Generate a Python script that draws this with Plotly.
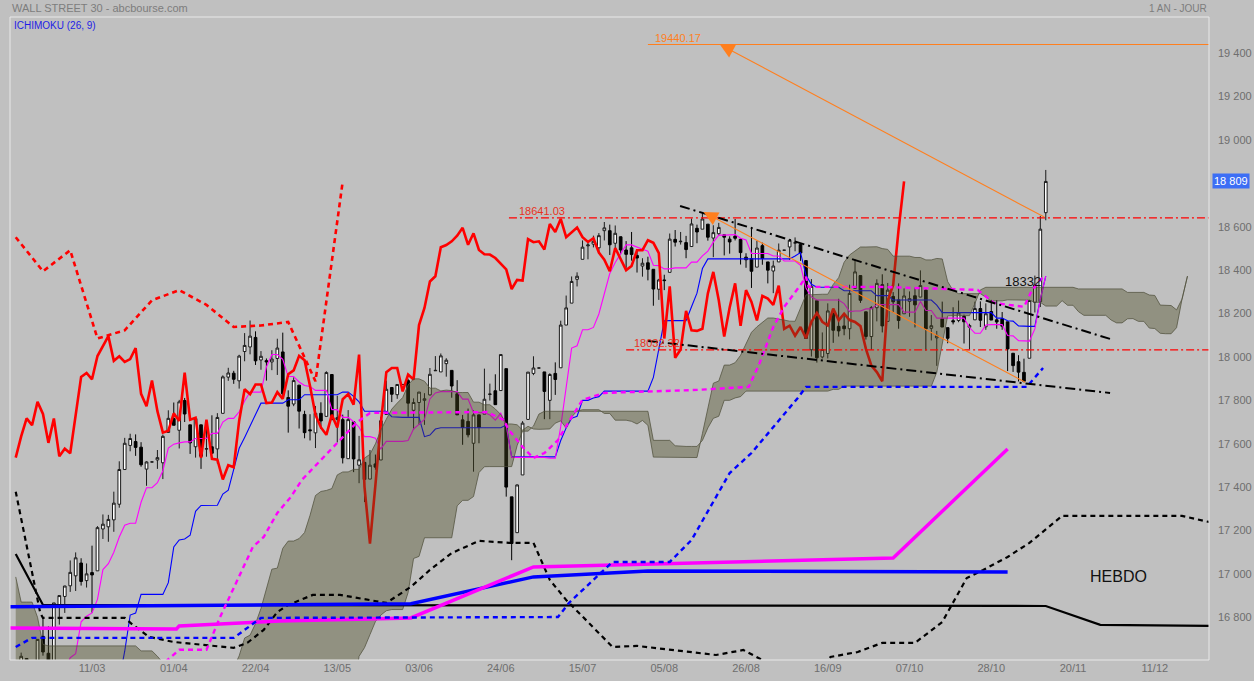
import plotly.graph_objects as go

# ---------------- daily OHLC (bar index 0 = 10/03) ----------------
FIRST_BAR = -22
bar_index = list(range(FIRST_BAR, 176))
opens = [16014,16020,15897,15691,15974,16012,16217,16486,16383,16417,
         16610,16418,16492,16712,16634,16545,16851,16896,16945,16991,
         17050,16969,17006,17014,17207,17217,17249,17321,17481,17592,
         17610,17584,17483,17516,17525,17512,17652,17716,17662,17799,
         17687,17586,17687,17575,17586,17576,17740,17907,17925,17890,
         18025,18046,18090,17986,17983,17977,17993,18023,17813,17783,
         17870,17735,17664,17650,17740,17726,17919,17712,17711,17531,
         17701,17501,17514,17437,17507,17525,17735,17859,17826,17873,
         17891,17754,17790,17800,17825,17936,17931,17969,17938,17830,
         17710,17703,17602,17733,17736,17827,17844,17845,17946,17355,
         17190,17456,17712,17924,17949,17931,17800,17924,17950,18147,
         18248,18358,18450,18512,18520,18503,18582,18582,18524,18554,
         18493,18503,18468,18419,18434,18404,18312,18355,18390,18542,
         18531,18527,18509,18593,18589,18612,18548,18568,18563,18543,
         18557,18542,18460,18453,18414,18513,18438,18396,18438,18492,
         18507,18525,18518,18444,18033,18259,18000,18016,18211,18141,
         18143,18130,18316,18375,18208,18094,18227,18333,18164,18279,
         18263,18199,18256,18282,18276,18308,18132,18088,18177,18135,
         18167,18168,18187,18137,18171,18223,18139,18209,18171,18176,
         18162,18017,17978,17929,17994,18252,18255,18665]
highs = [16136,16200,15914,15974,15974,16196,16484,16519,16416,16637,
         16610,16498,16698,16795,16758,16866,16900,16945,17062,17099,
         17072,17048,17130,17220,17274,17272,17379,17519,17627,17646,
         17643,17607,17519,17516,17571,17642,17754,17790,17802,17811,
         17687,17720,17687,17678,17731,17741,17915,17950,17936,18010,
         18110,18168,18118,18027,17993,18031,18084,18112,17846,17906,
         17870,17752,17736,17774,17791,17934,17919,17821,17734,17755,
         17701,17636,17514,17571,17550,17724,17891,17860,17873,17873,
         17899,17809,17838,17833,17949,18004,18016,17994,17938,17893,
         17733,17762,17754,17733,17946,17877,17920,18011,17946,17355,
         17412,17704,17930,18003,17949,17931,17925,17975,18167,18283,
         18371,18390,18537,18537,18559,18571,18622,18610,18606,18555,
         18534,18576,18490,18455,18462,18404,18360,18379,18569,18585,
         18576,18558,18638,18610,18668,18612,18607,18618,18563,18556,
         18636,18546,18478,18591,18535,18527,18438,18444,18523,18492,
         18538,18551,18518,18444,18359,18259,18113,18247,18211,18268,
         18200,18333,18450,18375,18208,18235,18358,18381,18341,18299,
         18339,18316,18302,18319,18399,18312,18193,18120,18255,18135,
         18229,18260,18195,18153,18255,18256,18247,18263,18262,18207,
         18162,18017,18008,17992,18263,18375,18650,18862]
lows = [15881,15899,15503,15660,15974,15993,16217,16394,16294,16417,
        16403,16165,16459,16623,16510,16545,16766,16820,16917,16921,
        16946,16937,16821,17014,17161,17148,17194,17305,17481,17565,
        17544,17494,17406,17516,17484,17437,17652,17685,17578,17700,
        17553,17536,17484,17540,17552,17508,17740,17890,17876,17854,
        17980,18012,17963,17941,17891,17939,17917,17810,17651,17773,
        17670,17625,17615,17580,17668,17726,17711,17606,17509,17531,
        17469,17418,17331,17437,17480,17525,17735,17792,17807,17873,
        17724,17664,17687,17687,17822,17936,17931,17909,17812,17733,
        17595,17629,17471,17602,17736,17799,17779,17845,17356,17063,
        17190,17456,17711,17916,17949,17713,17713,17825,17950,18147,
        18248,18325,18450,18450,18505,18476,18537,18470,18501,18473,
        18411,18444,18389,18370,18353,18236,18263,18308,18390,18509,
        18518,18455,18509,18524,18589,18536,18460,18558,18468,18476,
        18537,18426,18411,18318,18414,18425,18339,18294,18438,18492,
        18447,18487,18443,18085,18002,17974,17993,17993,18065,18094,
        18100,18081,18316,18249,18080,18032,18164,18113,18164,18204,
        18130,18199,18185,18136,18276,18029,18076,17959,18138,18063,
        18150,18160,18062,18035,18171,18138,18125,18170,18130,18125,
        17935,17931,17887,17883,17994,18205,18230,18630]
closes = [16014,15914,15660,15974,15974,16196,16454,16413,16392,16620,
          16431,16485,16698,16640,16517,16866,16900,16944,17007,17074,
          16965,17000,16995,17213,17229,17251,17326,17481,17602,17624,
          17583,17503,17516,17516,17536,17634,17717,17685,17793,17737,
          17604,17716,17542,17577,17556,17721,17908,17926,17897,18004,
          18053,18096,17982,18003,17977,17990,18041,17830,17773,17891,
          17750,17651,17660,17740,17705,17928,17711,17720,17535,17711,
          17530,17526,17435,17501,17492,17706,17851,17828,17873,17873,
          17787,17790,17838,17807,17920,17938,18005,17985,17866,17733,
          17675,17641,17733,17675,17805,17829,17780,18011,17400,17140,
          17410,17695,17930,17949,17949,17841,17919,17896,18147,18226,
          18348,18372,18506,18516,18533,18559,18595,18517,18570,18493,
          18473,18472,18456,18432,18404,18313,18355,18352,18543,18529,
          18533,18495,18613,18576,18636,18552,18573,18597,18552,18530,
          18547,18481,18448,18395,18502,18454,18400,18419,18492,18492,
          18538,18526,18479,18085,18325,17996,18034,18212,18123,18120,
          18130,18293,18392,18261,18094,18228,18339,18143,18308,18254,
          18168,18281,18269,18240,18329,18129,18144,18098,18138,18086,
          18162,18203,18162,18145,18223,18169,18199,18170,18161,18142,
          18037,17960,17930,17888,18260,18332,18589,18809]

# ---------------- axis labels ----------------
date_tick_pos = [0, 15, 30, 45, 60, 75, 90, 105, 120, 135, 150, 165, 180, 195]
date_tick_labels = ["11/03", "01/04", "22/04", "13/05", "03/06", "24/06", "15/07",
                    "05/08", "26/08", "16/09", "07/10", "28/10", "20/11", "11/12"]
price_ticks = [16800, 17000, 17200, 17400, 17600, 17800, 18000, 18200,
               18400, 18600, 19000, 19200, 19400]
price_tick_labels = ["16 800", "17 000", "17 200", "17 400", "17 600", "17 800", "18 000",
                     "18 200", "18 400", "18 600", "19 000", "19 200", "19 400"]
last_price = 18809

# ---------------- cloud, early part (d = -14 .. 54) ----------------
kumo_early_x = list(range(-14, 55))
kumo_early_top = [16986, 16870, 16870, 16870, 16800, 16675,
                  16668, 16668, 16668, 16668, 16668, 16668, 16668, 16668, 16668,
                  16668, 16668, 16668, 16668, 16668, 16668, 16668, 16668,
                  16645, 16645, 16645, 16620, 16590,
                  16450, 16450, 16450, 16450, 16450, 16450, 16450, 16450, 16450, 16450,
                  16450, 16450, 16450, 16450, 16450, 16450, 16450, 16450, 16450, 16450,
                  16450, 16450, 16450, 16450, 16450, 16450, 16450, 16450, 16450, 16450,
                  16450, 16450, 16450, 16450, 16450,
                  16620, 16660, 16720, 16780, 16810, 16830]
kumo_early_low = [16400, 16400, 16400, 16400, 16400, 16400, 16400, 16400, 16400, 16400,
                  16400, 16400, 16400, 16400, 16400, 16400, 16400, 16400, 16400, 16400,
                  16400, 16400, 16400, 16400, 16400, 16400]   # d = -14 .. 11, below the frame

# ---------------- weekly (HEBDO) lines ----------------
wk_tenkan_x = [11, 16, 21, 23.5, 26, 29.5, 31.5, 34, 36.5, 38.5, 42, 48.5, 51, 72.5, 75.5, 76.5,
               79, 81, 83, 85.5, 88, 90, 94, 111, 120.5, 122.5, 125, 127, 130, 131, 131.5,
               144.5, 162.5, 165.5, 171, 172.5, 174.5]
wk_tenkan = [16540, 16650, 16650, 16801, 16935, 17124, 17170, 17281, 17355, 17433, 17525,
             17696, 17742, 17746, 17710, 17663, 17585, 17534, 17557, 17617, 17723, 17802,
             17834, 17848, 17862, 17972, 18138, 18231, 18332, 18369, 18323, 18323, 18309,
             18249, 18231, 18309, 18369]
wk_kijun_x = [-14, -11, 26, 31, 85.5, 87.5, 95.5, 106, 110, 117, 121, 125, 129.5, 131, 171.5, 174.5]
wk_kijun = [16663, 16705, 16705, 16797, 16801, 16866, 17055, 17055, 17156, 17465, 17557,
            17677, 17811, 17862, 17862, 17949]
wk_span_a_x = [-14, -9.5, -9, 6, 7.5, 10.5, 15, 21, 26, 28.5, 31.5, 34, 36, 40.5, 45.5, 54,
               58.5, 62, 66, 71, 76.5, 81, 84, 87, 95.5, 100, 114.5, 119.5, 123, 125.5,
               133.5, 135.5, 140.5, 145, 151, 156, 160.5, 163.5, 168, 172, 178, 200, 205]
wk_span_a = [17379, 16820, 16797, 16797, 16765, 16709, 16686, 16672, 16659, 16682, 16742,
             16824, 16857, 16903, 16903, 16866, 16940, 17018, 17096, 17152, 17143, 17143,
             16972, 16880, 16663, 16668, 16626, 16649, 16603, 16510, 16510, 16617, 16640,
             16682, 16682, 16778, 16981, 17018, 17078, 17143, 17267, 17267, 17239]
wk_span_b_x = [-14, -9, 175, 185, 205]
wk_span_b = [17092, 16857, 16852, 16765, 16760]
wk_blue_x = [-15.5, 58.5, 81, 102, 168]
wk_blue = [16848, 16862, 16986, 17013, 17009]
wk_magenta_x = [-15.5, 15.5, 16, 34.5, 58.5, 81, 147, 168]
wk_magenta = [16751, 16746, 16760, 16783, 16797, 17032, 17073, 17576]

# ---------------- drawing tools ----------------
level_values = [18641.03, 18032.32, 19440.17]
level_starts = [76.5, 98, 102]
level_labels = ["18641.03", "18032.32", "19440.17"]
trend_upper_x = [107.9, 186.8]
trend_upper_y = [18696, 18083]
trend_lower_x = [102, 186.8]
trend_lower_y = [18074, 17834]
arrow_low_from = (171.5, 17880)
arrow_low_to = (112.2, 18668)
arrow_high_from = (175, 18641.03)
arrow_high_to = (115.2, 19440.17)

# ---------------- ichimoku helpers ----------------
def pos(i):
    return i - FIRST_BAR

def midrange(i, n):
    a = max(pos(i) - n + 1, 0)
    b = pos(i) + 1
    return (max(highs[a:b]) + min(lows[a:b])) / 2.0

line_x = list(range(-14, 176))
tenkan = [midrange(i, 9) for i in line_x]
kijun = [midrange(i, 26) for i in line_x]

chikou_src = list(range(12, 176))
chikou_x = [i - 26 for i in chikou_src]
chikou_y = [closes[pos(i)] for i in chikou_src]

wk_fridays = list(range(116, 177, 5))
wk_chikou_x = [i - 130 for i in wk_fridays]
wk_chikou_y = [closes[pos(min(i, 175))] for i in wk_fridays]

cloud_x = list(range(-14, 202))
span_a, span_b = [], []
for d in cloud_x:
    i = d - 26
    if i >= -14:
        span_a.append((midrange(i, 9) + midrange(i, 26)) / 2.0)
    else:
        span_a.append(kumo_early_low[d + 14])
    if d >= 55:
        span_b.append(midrange(i, 52))
    else:
        span_b.append(kumo_early_top[d + 14])

# ---------------- figure ----------------
fig = go.Figure()
vis = [k for k, i in enumerate(bar_index) if i >= -16]
fig.add_trace(go.Candlestick(
    x=[bar_index[k] for k in vis], open=[opens[k] for k in vis], high=[highs[k] for k in vis],
    low=[lows[k] for k in vis], close=[closes[k] for k in vis],
    increasing=dict(line=dict(color="#1a1a1a", width=1), fillcolor="#ffffff"),
    decreasing=dict(line=dict(color="#000000", width=1), fillcolor="#000000"),
    whiskerwidth=0, hoverinfo="skip"))

fig.add_trace(go.Scatter(x=line_x, y=kijun, mode="lines", line=dict(color="#0000ff", width=1.1), hoverinfo="skip"))
fig.add_trace(go.Scatter(x=line_x, y=tenkan, mode="lines", line=dict(color="#ff00ff", width=1.1), hoverinfo="skip"))
fig.add_trace(go.Scatter(x=chikou_x, y=chikou_y, mode="lines", line=dict(color="#ff0000", width=2.6), hoverinfo="skip"))

fig.add_trace(go.Scatter(x=cloud_x, y=span_a, mode="lines",
                         line=dict(color="rgba(80,80,60,0.75)", width=1), hoverinfo="skip"))
fig.add_trace(go.Scatter(x=cloud_x, y=span_b, mode="lines", fill="tonexty",
                         fillcolor="rgba(75,75,35,0.40)",
                         line=dict(color="rgba(80,80,60,0.75)", width=1), hoverinfo="skip"))

fig.add_trace(go.Scatter(x=wk_chikou_x, y=wk_chikou_y, mode="lines",
                         line=dict(color="#ff0000", width=2.6, dash="5px,4px"), hoverinfo="skip"))
fig.add_trace(go.Scatter(x=wk_span_b_x, y=wk_span_b, mode="lines",
                         line=dict(color="#000000", width=2.2), hoverinfo="skip"))
fig.add_trace(go.Scatter(x=wk_span_a_x, y=wk_span_a, mode="lines",
                         line=dict(color="#000000", width=2.2, dash="5px,4px"), hoverinfo="skip"))
fig.add_trace(go.Scatter(x=wk_blue_x, y=wk_blue, mode="lines",
                         line=dict(color="#0000ff", width=3.5), hoverinfo="skip"))
fig.add_trace(go.Scatter(x=wk_magenta_x, y=wk_magenta, mode="lines",
                         line=dict(color="#ff00ff", width=3.5), hoverinfo="skip"))
fig.add_trace(go.Scatter(x=wk_kijun_x, y=wk_kijun, mode="lines",
                         line=dict(color="#0000ff", width=2.4, dash="5px,4px"), hoverinfo="skip"))
fig.add_trace(go.Scatter(x=wk_tenkan_x, y=wk_tenkan, mode="lines",
                         line=dict(color="#ff00ff", width=2.4, dash="5px,4px"), hoverinfo="skip"))

level_colors = ["#ff0000", "#ff0000", "#ff7f1e"]
for lv, st, col in zip(level_values, level_starts, level_colors):
    dash = "8px,3px,2px,3px" if col == "#ff0000" else "solid"
    fig.add_trace(go.Scatter(x=[st, 206], y=[lv, lv], mode="lines",
                             line=dict(color=col, width=1.2, dash=dash), hoverinfo="skip"))

fig.add_trace(go.Scatter(x=trend_upper_x, y=trend_upper_y, mode="lines",
                         line=dict(color="#000000", width=2, dash="10px,4px,2px,4px"), hoverinfo="skip"))
fig.add_trace(go.Scatter(x=trend_lower_x, y=trend_lower_y, mode="lines",
                         line=dict(color="#000000", width=2, dash="10px,4px,2px,4px"), hoverinfo="skip"))

ann = []
for (fx, fy), (tx, ty) in [(arrow_low_from, arrow_low_to), (arrow_high_from, arrow_high_to)]:
    ann.append(dict(x=tx, y=ty, ax=fx, ay=fy, xref="x", yref="y", axref="x", ayref="y",
                    text="", showarrow=True, arrowhead=2, arrowsize=2.6, arrowwidth=1.1,
                    arrowcolor="#ff7f1e", standoff=0, startstandoff=0))

lbl_font = "Liberation Sans, Arial, sans-serif"
label_x = [78, 99, 103]
for lv, lx, txt, col in zip(level_values, label_x, level_labels, ["#e8321e", "#e8321e", "#ff7f1e"]):
    ann.append(dict(x=lx, y=lv, xref="x", yref="y", text=txt, showarrow=False,
                    xanchor="left", yanchor="bottom", yshift=-1,
                    font=dict(family=lbl_font, size=11, color=col)))

ann.append(dict(x=167.2, y=18346, xref="x", yref="y", text="18332", showarrow=False,
                xanchor="left", yanchor="middle", font=dict(family=lbl_font, size=13, color="#111111")))
ann.append(dict(x=188.4, y=16986, xref="x", yref="y", text="HEBDO", showarrow=False,
                xanchor="center", yanchor="middle", font=dict(family=lbl_font, size=16, color="#111111")))
ann.append(dict(x=0, y=1, xref="paper", yref="paper", text="WALL STREET 30 - abcbourse.com",
                showarrow=False, xanchor="left", yanchor="bottom", yshift=1,
                font=dict(family=lbl_font, size=11, color="#7d7d7d")))
ann.append(dict(x=1, y=1, xref="paper", yref="paper", text="1 AN - JOUR",
                showarrow=False, xanchor="right", yanchor="bottom", yshift=1,
                font=dict(family=lbl_font, size=10, color="#7d7d7d")))
ann.append(dict(x=0, y=1, xref="paper", yref="paper", text="ICHIMOKU (26, 9)",
                showarrow=False, xanchor="left", yanchor="top", xshift=2, yshift=-1,
                font=dict(family=lbl_font, size=10, color="#1e1ee6")))
ann.append(dict(x=1, y=last_price, xref="paper", yref="y", text="18 809", showarrow=False,
                xanchor="left", yanchor="middle", xshift=3, bgcolor="#3c6ef5", borderpad=1,
                font=dict(family=lbl_font, size=11, color="#ffffff")))

fig.update_layout(
    width=1254, height=681,
    margin=dict(l=10, r=45, t=17, b=21, autoexpand=False),
    paper_bgcolor="#c0c0c0", plot_bgcolor="#c0c0c0",
    showlegend=False,
    font=dict(family=lbl_font),
    annotations=ann,
    shapes=[dict(type="rect", xref="paper", yref="paper", x0=0, x1=1, y0=0, y1=1,
                 line=dict(color="#e8e8e8", width=1), fillcolor="rgba(0,0,0,0)", layer="above")],
    xaxis=dict(range=[-15.05, 204.95], tickmode="array", tickvals=date_tick_pos,
               ticktext=date_tick_labels, showgrid=False, zeroline=False, showline=False,
               ticks="", rangeslider=dict(visible=False), automargin=False,
               tickfont=dict(size=11, color="#6e6e6e", family=lbl_font)),
    yaxis=dict(range=[16603, 19567], side="right", tickmode="array", tickvals=price_ticks,
               ticktext=price_tick_labels, showgrid=False, zeroline=False, showline=False,
               ticks="", ticklabelstandoff=8, automargin=False,
               tickfont=dict(size=11, color="#6e6e6e", family=lbl_font)),
)

fig.write_html("out.html", config={"displayModeBar": False},
               post_script="document.body.style.margin='0px';document.body.style.background='#c0c0c0';document.body.style.overflow='hidden';")
